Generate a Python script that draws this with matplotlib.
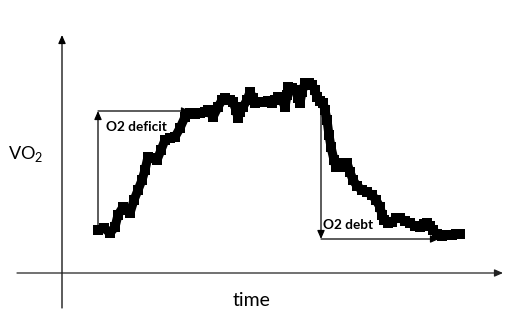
import matplotlib
matplotlib.use("Agg")
import matplotlib.pyplot as plt

# Traced VO2 response (time, VO2 in arbitrary units: height above time axis)
time = [98, 104, 110, 115, 118, 123, 127, 130, 134, 138, 142, 145, 148, 152, 157, 161, 165,
        170, 175, 180, 185, 190, 195, 200, 205, 208, 213, 218, 222, 225, 230, 233, 236, 238,
        240, 243, 247, 250, 253, 255, 260, 263, 268, 272, 275, 278, 282, 285, 287, 288, 292,
        295, 298, 300, 302, 305, 309, 312, 315, 317, 320, 323, 325, 327, 329, 331, 334, 336,
        340, 344, 347, 350, 353, 357, 362, 367, 372, 376, 380, 382, 384, 388, 392, 396, 400,
        405, 410, 415, 420, 424, 427, 430, 433, 437, 442, 447, 452, 456, 460]
y_px = [230, 228, 233, 227, 215, 207, 210, 213, 200, 190, 180, 170, 157, 158, 160, 150, 140,
        138, 137, 128, 117, 113, 114, 113, 112, 110, 117, 107, 100, 98, 100, 102, 110, 118,
        112, 107, 100, 92, 98, 103, 102, 102, 101, 103, 100, 97, 100, 107, 95, 87, 88,
        90, 98, 103, 92, 83, 83, 85, 90, 97, 101, 103, 110, 120, 135, 147, 160, 167,
        167, 163, 163, 172, 180, 186, 190, 192, 195, 200, 207, 215, 220, 223, 222, 218, 218,
        221, 223, 226, 227, 224, 223, 226, 230, 234, 236, 235, 235, 234, 234]
BASE = 273
vo2 = [BASE - v for v in y_px]

# Annotation anchors (time, VO2)
deficit_start = (98, BASE - 232)
deficit_top = (98, BASE - 111)
deficit_end = (190, BASE - 111)
debt_top = (321, BASE - 105)
debt_bottom = (321, BASE - 239)
debt_end = (439, BASE - 239)

fig = plt.figure(figsize=(5.17, 3.15), dpi=100)
ax = fig.add_axes([0, 0, 1, 1])
ax.set_xlim(0, 517)
ax.set_ylim(BASE - 315, BASE)
ax.axis("off")

arrow_kw = dict(arrowstyle="-|>,head_length=0.5,head_width=0.22", color="black", lw=0.9,
                shrinkA=0, shrinkB=0)

# axes arrows
ax.annotate("", xy=(62, BASE - 35), xytext=(62, BASE - 308), arrowprops=arrow_kw)
ax.annotate("", xy=(503, 0), xytext=(17, 0),
            arrowprops=dict(arrow_kw, color="#222222"))

# deficit / debt arrows
ax.annotate("", xy=deficit_top, xytext=deficit_start, arrowprops=arrow_kw)
ax.annotate("", xy=deficit_end, xytext=deficit_top, arrowprops=dict(arrow_kw, arrowstyle="-"))
ax.annotate("", xy=deficit_end, xytext=(deficit_end[0] - 1, deficit_end[1]), arrowprops=arrow_kw)
ax.annotate("", xy=debt_bottom, xytext=debt_top, arrowprops=arrow_kw)
ax.annotate("", xy=debt_end, xytext=debt_bottom, arrowprops=arrow_kw)

# curve
ax.plot(time, vo2, color="black", lw=6.5, solid_joinstyle="round", solid_capstyle="butt",
        marker="s", markersize=6.5, markeredgewidth=0, zorder=5)

fam = ["Lato", "DejaVu Sans"]
ax.text(106, BASE - 127, "O2 deficit", fontsize=9.8, fontweight="bold", family=fam,
        ha="left", va="center", zorder=6)
ax.text(323, BASE - 225, "O2 debt", fontsize=9.8, fontweight="bold", family=fam,
        ha="left", va="center", zorder=6)
ax.text(8, BASE - 154, r"VO$_\mathregular{2}$", fontsize=13, family=fam,
        ha="left", va="center")
ax.text(252, BASE - 300, "time", fontsize=14, family=fam, ha="center", va="center")

fig.savefig("out.png", dpi=100)
